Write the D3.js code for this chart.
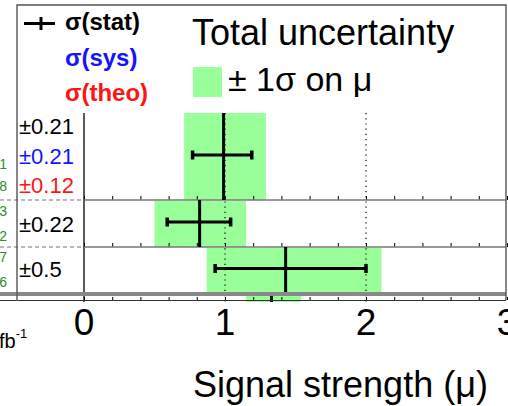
<!DOCTYPE html>
<html>
<head>
  <title></title>
  <style>
    body { margin: 0; background: #fff; }
    svg { display: block; font-family: "Liberation Sans", Arial, Helvetica, sans-serif; }
  </style>
</head>
<body>
  <svg width="508" height="406"></svg>

  <script src="https://d3js.org/d3.v7.min.js"></script>
  <script>

  // one entry per row, top to bottom (last row is cut off by the axis band)
  var rowNames = ["row1", "row2", "row3", "row4"];
  var mu       = [0.99, 0.82, 1.43, 1.33];
  var totLo    = [0.71, 0.50, 0.87, 1.15];
  var totHi    = [1.29, 1.15, 2.11, 1.54];
  var statLo   = [0.77, 0.59, 0.93, null];
  var statHi   = [1.19, 1.04, 2.00, null];

  var statText = ["±0.21", "±0.22", "±0.5"];
  var sysText  = ["±0.21"];
  var theoText = ["±0.12"];

  // clipped bits of the labels left of the frame
  var edgeDigits = ["1", "8", "3", "2", "7", "6"];

  var xTicks = [0, 1, 2, 3];

  var svg = d3.select("svg"),
      width = +svg.attr("width"),
      height = +svg.attr("height");

  var green = "#99ff99",
      blue = "#1414ff",
      red = "#ff1414",
      dgreen = "#2e8b2e";

  var x = d3.scaleLinear().domain([0, 3]).range([84, 507]);
  // row edges (row index -> pixel)
  var y = d3.scaleLinear().domain([0, 1, 2, 3, 4]).range([113, 200, 247, 293, 302]);
  var mid = function(i) { return (y(i) + y(i + 1)) / 2; };

  var rows = rowNames.map(function(n, i) {
    return { name: n, i: i, mu: mu[i], lo: totLo[i], hi: totHi[i], slo: statLo[i], shi: statHi[i] };
  });

  // total uncertainty boxes
  svg.append("g").selectAll("rect")
    .data(rows)
    .enter().append("rect")
      .attr("x", function(d) { return x(d.lo); })
      .attr("width", function(d) { return x(d.hi) - x(d.lo); })
      .attr("y", function(d) { return y(d.i) + (d.i > 0 ? 1 : 0); })
      .attr("height", function(d) { return y(d.i + 1) - y(d.i) - (d.i > 0 ? 1 : 0); })
      .attr("fill", green);

  // zero line and dotted reference lines
  svg.append("line")
      .attr("x1", x(0)).attr("x2", x(0))
      .attr("y1", y(0)).attr("y2", y(4))
      .attr("stroke", "#000").attr("stroke-width", 1.3);

  svg.append("g").selectAll("line")
    .data([1, 2])
    .enter().append("line")
      .attr("x1", function(d) { return x(d); }).attr("x2", function(d) { return x(d); })
      .attr("y1", y(0)).attr("y2", y(4))
      .attr("stroke", "#000").attr("stroke-width", 1.2)
      .attr("stroke-dasharray", "1.2,4");

  // row separators: dashed left of zero, solid with ticks to the right
  var seps = [1, 2];
  svg.append("g").selectAll("line")
    .data(seps)
    .enter().append("line")
      .attr("x1", 0).attr("x2", x(0))
      .attr("y1", function(d) { return y(d); }).attr("y2", function(d) { return y(d); })
      .attr("stroke", "#777").attr("stroke-width", 1.2)
      .attr("stroke-dasharray", "4,3");

  seps.forEach(function(s) {
    svg.append("g")
        .attr("transform", "translate(0," + y(s) + ")")
        .call(d3.axisTop(x).ticks(15).tickSize(4).tickFormat(""))
        .call(function(g) {
          g.select(".domain").remove();
          g.selectAll(".tick line").attr("stroke", "#000").attr("stroke-width", 1);
        });
    svg.append("line")
        .attr("x1", x(0)).attr("x2", 506)
        .attr("y1", y(s)).attr("y2", y(s))
        .attr("stroke", "#777").attr("stroke-width", 1.6);
  });

  // central values
  svg.append("g").selectAll("line")
    .data(rows)
    .enter().append("line")
      .attr("x1", function(d) { return x(d.mu); }).attr("x2", function(d) { return x(d.mu); })
      .attr("y1", function(d) { return y(d.i); }).attr("y2", function(d) { return y(d.i + 1); })
      .attr("stroke", "#000").attr("stroke-width", 3);

  // stat error bars
  var statRows = rows.filter(function(d) { return d.slo !== null; });
  var bars = svg.append("g").selectAll("g")
    .data(statRows)
    .enter().append("g");

  bars.append("line")
      .attr("x1", function(d) { return x(d.slo); }).attr("x2", function(d) { return x(d.shi); })
      .attr("y1", function(d) { return mid(d.i) - 1.5; }).attr("y2", function(d) { return mid(d.i) - 1.5; })
      .attr("stroke", "#000").attr("stroke-width", 3);

  bars.selectAll(".cap")
    .data(function(d) { return [{ v: d.slo, i: d.i }, { v: d.shi, i: d.i }]; })
    .enter().append("line")
      .attr("class", "cap")
      .attr("x1", function(d) { return x(d.v); }).attr("x2", function(d) { return x(d.v); })
      .attr("y1", function(d) { return mid(d.i) - 6; }).attr("y2", function(d) { return mid(d.i) + 3; })
      .attr("stroke", "#000").attr("stroke-width", 3.5);

  // thick band and bottom axis
  svg.append("rect")
      .attr("x", 0).attr("y", 292).attr("width", 506).attr("height", 4)
      .attr("fill", "#888");

  svg.append("g")
      .attr("transform", "translate(0," + 300 + ")")
      .call(d3.axisTop(x).ticks(15).tickSize(3).tickFormat(""))
      .call(function(g) {
        g.select(".domain").remove();
        g.selectAll(".tick line").attr("stroke", "#000");
      });
  svg.append("line")
      .attr("x1", 0).attr("x2", 506).attr("y1", 300.5).attr("y2", 300.5)
      .attr("stroke", "#333").attr("stroke-width", 1.2);

  svg.append("g").selectAll("text")
    .data(xTicks)
    .enter().append("text")
      .attr("x", function(d) { return x(d); })
      .attr("y", 335)
      .attr("text-anchor", "middle")
      .attr("font-size", 37)
      .text(function(d) { return d; });

  svg.append("text")
      .attr("x", 193).attr("y", 397)
      .attr("font-size", 36)
      .text("Signal strength (μ)");

  var fb = svg.append("text").attr("x", -1).attr("y", 348).attr("font-size", 20);
  fb.append("tspan").text("fb");
  fb.append("tspan").attr("dy", -10).attr("font-size", 13).text("-1");

  // frame
  svg.append("path")
      .attr("d", "M17,301V5H506V300")
      .attr("fill", "none").attr("stroke", "#555").attr("stroke-width", 1.4);

  // uncertainty labels
  var lab = svg.append("g").attr("font-size", 22);
  lab.append("text").attr("x", 19).attr("y", mid(0) - 23).text(statText[0]);
  lab.append("text").attr("x", 19).attr("y", mid(0) + 7).attr("fill", blue).text(sysText[0]);
  lab.append("text").attr("x", 19).attr("y", mid(0) + 36).attr("fill", red).text(theoText[0]);
  lab.append("text").attr("x", 19).attr("y", mid(1) + 8).text(statText[1]);
  lab.append("text").attr("x", 19).attr("y", mid(2) + 7).text(statText[2]);

  var edgeY = [164, 186, 211, 236, 257, 282];
  svg.append("g").selectAll("text")
    .data(edgeDigits)
    .enter().append("text")
      .attr("x", 7)
      .attr("y", function(d, i) { return edgeY[i] + 5; })
      .attr("text-anchor", "end")
      .attr("font-size", 14)
      .attr("fill", dgreen)
      .text(function(d) { return d; });

  // legend (left)
  var leg = svg.append("g").attr("font-size", 24).attr("font-weight", "bold");
  leg.append("line").attr("x1", 24).attr("x2", 55).attr("y1", 23.5).attr("y2", 23.5)
      .attr("stroke", "#000").attr("stroke-width", 3);
  leg.append("line").attr("x1", 41).attr("x2", 41).attr("y1", 17).attr("y2", 30)
      .attr("stroke", "#000").attr("stroke-width", 3);
  leg.append("text").attr("x", 65).attr("y", 30).text("σ(stat)");
  leg.append("text").attr("x", 65).attr("y", 66).attr("fill", blue).text("σ(sys)");
  leg.append("text").attr("x", 65).attr("y", 101).attr("fill", red).text("σ(theo)");

  // legend (right)
  svg.append("text").attr("x", 192).attr("y", 45).attr("font-size", 36).text("Total uncertainty");
  svg.append("rect").attr("x", 193).attr("y", 67).attr("width", 29).attr("height", 30).attr("fill", green);
  svg.append("text").attr("x", 228).attr("y", 91).attr("font-size", 34).text("± 1σ on μ");

  </script>
</body>
</html>
